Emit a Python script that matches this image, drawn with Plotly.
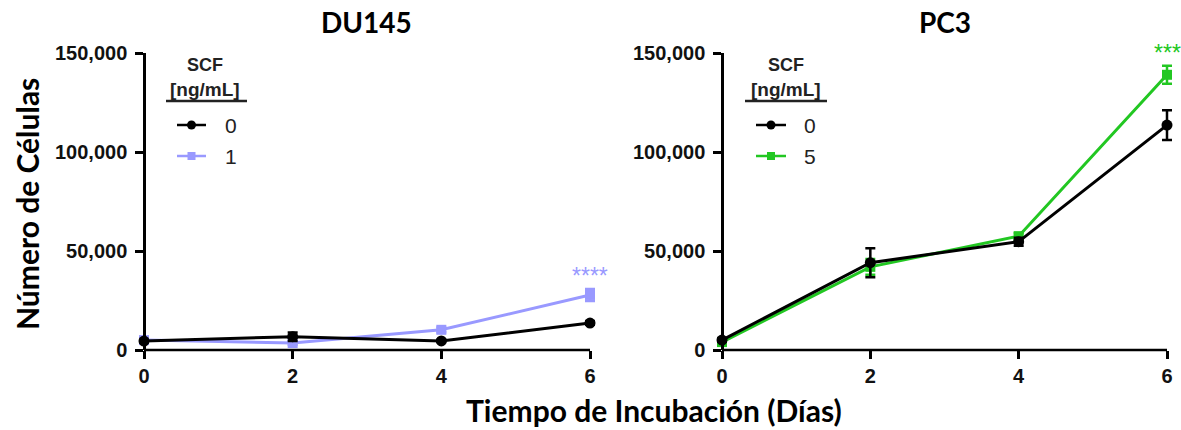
import plotly.graph_objects as go

days = [0, 2, 4, 6]

du_ctrl = [4500, 6700, 4600, 13600]
du_ctrl_err = [700, 2200, 600, 900]
du_scf = [5000, 3500, 10200, 27800]
du_scf_err = [900, 900, 1200, 3000]
du_sig = ["", "", "", "****"]

pc_ctrl = [5000, 44100, 54700, 113600]
pc_ctrl_err = [800, 7300, 2000, 7500]
pc_scf = [4000, 42000, 57500, 139000]
pc_scf_err = [700, 4000, 1500, 4500]
pc_sig = ["", "", "", "***"]

y_ticks = [0, 50000, 100000, 150000]
x_ticks = [0, 2, 4, 6]

BLACK = "#000000"
BLUE = "#9999ff"
GREEN = "#22c722"

W, H = 1181, 430
def px(x):
    return x / W
def py(y):
    return 1 - y / H

PAD = 0.12  # extra range (days) so error bars at the ends are not clipped

fig = go.Figure()

def add_series(xa, ya, y, err, color, symbol, size):
    fig.add_trace(go.Scatter(
        x=days, y=y, xaxis=xa, yaxis=ya, mode="lines+markers",
        line=dict(color=color, width=3),
        marker=dict(color=color, symbol=symbol, size=size),
        error_y=dict(type="data", array=err, color=color, thickness=2.5, width=5),
        cliponaxis=False, showlegend=False,
    ))

add_series("x", "y", du_scf, du_scf_err, BLUE, "square", 10)
add_series("x", "y", du_ctrl, du_ctrl_err, BLACK, "circle", 11)
add_series("x2", "y2", pc_scf, pc_scf_err, GREEN, "square", 10)
add_series("x2", "y2", pc_ctrl, pc_ctrl_err, BLACK, "circle", 11)

tickfont = dict(family="Liberation Sans", size=20, color="#111", weight="bold")
tick_common = dict(ticks="outside", ticklen=8, tickwidth=2.5, tickcolor="black",
                   showgrid=False, zeroline=False, automargin=False, tickfont=tickfont)

def x_dom(p0, p6):
    s = (p6 - p0) / 6.0
    return [px(p0 - PAD * s), px(p6 + PAD * s)]

fig.update_layout(
    width=W, height=H, margin=dict(l=0, r=0, t=0, b=0, autoexpand=False),
    paper_bgcolor="white", plot_bgcolor="white",
    xaxis=dict(domain=x_dom(144, 590), range=[-PAD, 6 + PAD], tickvals=x_ticks,
               anchor="y", ticklabelstandoff=0, showline=False, **tick_common),
    yaxis=dict(domain=[py(350), py(53)], range=[0, 150000], tickvals=y_ticks,
               tickformat=",", anchor="free", position=px(144), ticklabelstandoff=4,
               showline=True, linecolor="black", linewidth=2.5, **tick_common),
    xaxis2=dict(domain=x_dom(722, 1167), range=[-PAD, 6 + PAD], tickvals=x_ticks,
                anchor="y2", ticklabelstandoff=0, showline=False, **tick_common),
    yaxis2=dict(domain=[py(350), py(53)], range=[0, 150000], tickvals=y_ticks,
                tickformat=",", anchor="free", position=px(722), ticklabelstandoff=4,
                showline=True, linecolor="black", linewidth=2.5, **tick_common),
)

shapes = []
# x axis lines from day 0 to day 6 at y = 0
for xa, ya in [("x", "y"), ("x2", "y2")]:
    shapes.append(dict(type="line", xref=xa, yref=ya + " domain", x0=x_ticks[0], x1=x_ticks[-1],
                       y0=0, y1=0, line=dict(color="black", width=2.5), layer="below"))

title_font = dict(family="Lato", size=28, color="black", weight="bold")
ann = []
ann.append(dict(text="DU145", x=px(366), y=py(22), xref="paper", yref="paper",
                showarrow=False, font=title_font, xanchor="center", yanchor="middle"))
ann.append(dict(text="PC3", x=px(945), y=py(22), xref="paper", yref="paper",
                showarrow=False, font=title_font, xanchor="center", yanchor="middle"))
ann.append(dict(text="Número de Células", x=px(27), y=py(204), xref="paper", yref="paper",
                showarrow=False, textangle=-90,
                font=dict(family="Lato", size=30, color="black", weight="bold"),
                xanchor="center", yanchor="middle"))
ann.append(dict(text="Tiempo de Incubación (Días)", x=px(654), y=py(410), xref="paper", yref="paper",
                showarrow=False,
                font=dict(family="Lato", size=30, color="black", weight="bold"),
                xanchor="center", yanchor="middle"))

# significance stars
for xa, ya, vals, errs, sig, col in [("x", "y", du_scf, du_scf_err, du_sig, BLUE),
                                     ("x2", "y2", pc_scf, pc_scf_err, pc_sig, GREEN)]:
    for d, v, e, s in zip(days, vals, errs, sig):
        if s:
            ann.append(dict(text=s, x=d, y=v + e, xref=xa, yref=ya, showarrow=False,
                            font=dict(family="Liberation Sans", size=23, color=col),
                            xanchor="center", yanchor="bottom", yshift=-2))

# legends (custom)
legend_specs = [
    (205, 166, 247, 177, 206, 223, ["0", "1"], [BLACK, BLUE], ["circle", "square"]),
    (786, 745, 827, 756, 786, 802, ["0", "5"], [BLACK, GREEN], ["circle", "square"]),
]
for cx, ux0, ux1, lx0, lx1, tx, labels, cols, syms in legend_specs:
    ann.append(dict(text="SCF", x=px(cx), y=py(65), xref="paper", yref="paper", showarrow=False,
                    font=dict(family="Liberation Sans", size=18, color="#222", weight="bold"),
                    xanchor="center", yanchor="middle"))
    ann.append(dict(text="[ng/mL]", x=px(cx), y=py(89), xref="paper", yref="paper", showarrow=False,
                    font=dict(family="Liberation Sans", size=19, color="#222", weight="bold"),
                    xanchor="center", yanchor="middle"))
    shapes.append(dict(type="line", xref="paper", yref="paper", x0=px(ux0), x1=px(ux1),
                       y0=py(101), y1=py(101), line=dict(color="#222", width=2.5)))
    for i, (lab, col, sym) in enumerate(zip(labels, cols, syms)):
        yy = 125 + 31 * i
        shapes.append(dict(type="line", xref="paper", yref="paper", x0=px(lx0), x1=px(lx1),
                           y0=py(yy), y1=py(yy), line=dict(color=col, width=2.5)))
        mx = (lx0 + lx1) / 2
        if sym == "circle":
            shapes.append(dict(type="circle", xref="paper", yref="paper",
                               x0=px(mx - 4.5), x1=px(mx + 4.5), y0=py(yy - 4.5), y1=py(yy + 4.5),
                               fillcolor=col, line=dict(color=col, width=0)))
        else:
            shapes.append(dict(type="rect", xref="paper", yref="paper",
                               x0=px(mx - 4), x1=px(mx + 4), y0=py(yy - 4), y1=py(yy + 4),
                               fillcolor=col, line=dict(color=col, width=0)))
        ann.append(dict(text=lab, x=px(tx), y=py(yy), xref="paper", yref="paper", showarrow=False,
                        font=dict(family="Liberation Sans", size=21, color="#222"),
                        xanchor="left", yanchor="middle"))

fig.update_layout(annotations=ann, shapes=shapes)
fig.write_html("out.html")
